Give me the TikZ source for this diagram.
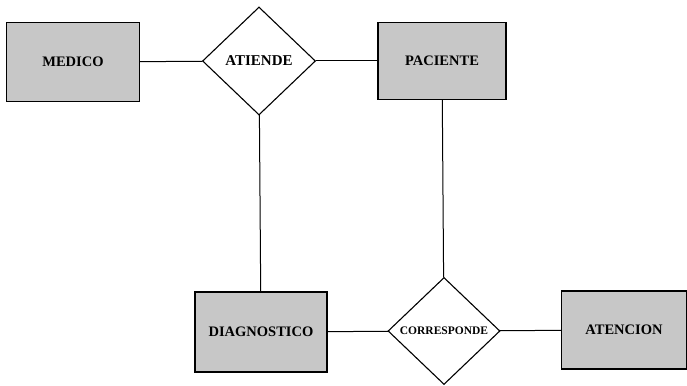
\documentclass[tikz,border=0pt]{standalone}
\usepackage{fontspec}
\setmainfont{Liberation Serif}
\usetikzlibrary{shapes.geometric}

\begin{document}
\begin{tikzpicture}[
    x=1pt, y=-1pt,
    entity/.style={draw, rectangle, line width=1.1pt, fill=black!22, minimum width=130pt, minimum height=78pt, font=\bfseries\fontsize{14.5}{16}\selectfont, inner sep=0pt},
    relation/.style={draw, diamond, line width=1.1pt, fill=white, minimum width=113pt, minimum height=108pt, inner sep=0pt, font=\bfseries},
    link/.style={line width=1pt}
]
\useasboundingbox (0,0) rectangle (687,385);

% Nodes
\node[entity, minimum width=133pt, minimum height=79pt] (medico) at (73,62) {MEDICO};
\node[relation, font=\bfseries\fontsize{15}{17}\selectfont] (atiende) at (259,61) {ATIENDE};
\node[entity, minimum width=128pt, minimum height=77pt] (paciente) at (442,61) {PACIENTE};
\node[entity, minimum width=132pt, minimum height=80pt] (diagnostico) at (261,332) {DIAGNOSTICO};
\node[relation, minimum width=112pt, minimum height=107pt, font=\bfseries\fontsize{11.5}{13}\selectfont] (corresponde) at (444,331) {CORRESPONDE};
\node[entity, minimum width=125pt, minimum height=78pt] (atencion) at (624,330) {ATENCION};

% Lines
\draw[link] (medico) -- (atiende);
\draw[link] (atiende) -- (paciente);
\draw[link] (atiende) -- (diagnostico);
\draw[link] (paciente) -- (corresponde);
\draw[link] (diagnostico) -- (corresponde);
\draw[link] (corresponde) -- (atencion);
\end{tikzpicture}
\end{document}
